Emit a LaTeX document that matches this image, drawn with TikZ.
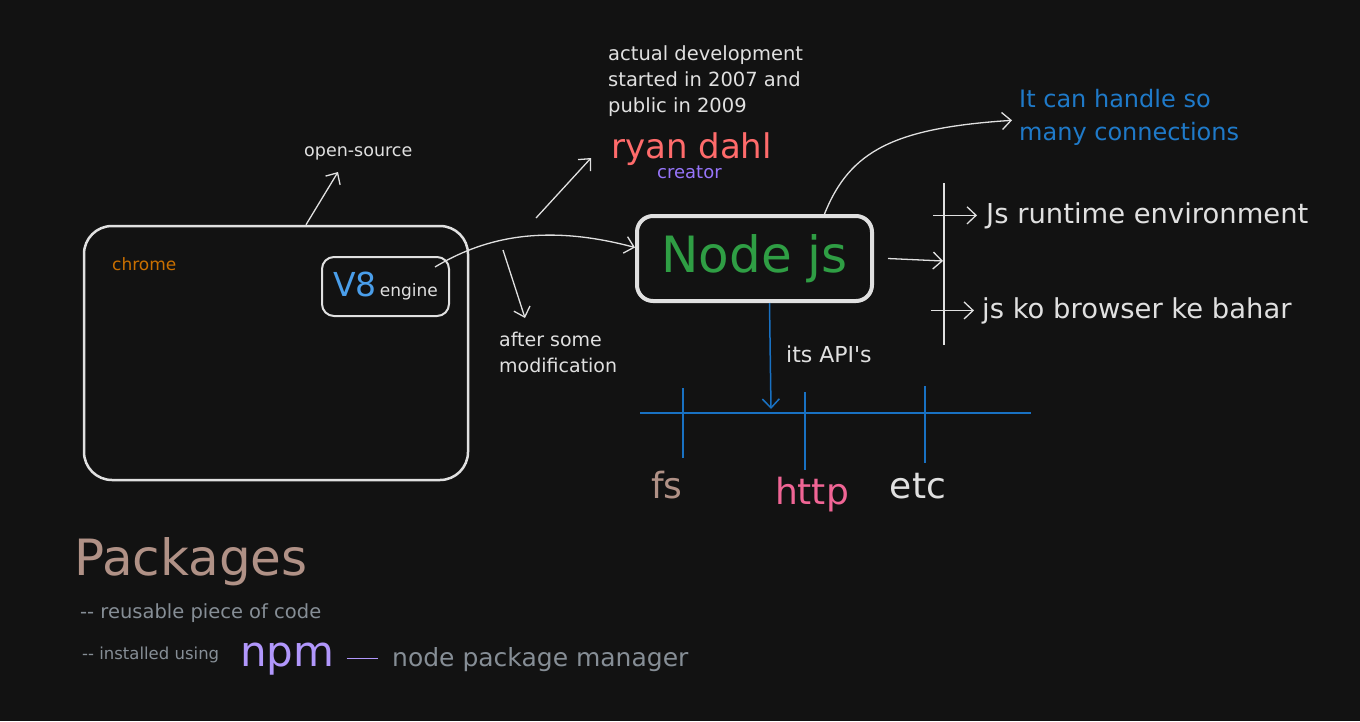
\documentclass[tikz,border=0pt]{standalone}
\usepackage{fontspec}
\setmainfont{DejaVu Sans}
\usetikzlibrary{positioning,arrows.meta}

\definecolor{bg}{HTML}{121212}
\definecolor{chalk}{HTML}{E0E0E0}
\definecolor{chromeorange}{HTML}{C96F00}
\definecolor{v8blue}{HTML}{4A9EEA}
\definecolor{nodegreen}{HTML}{2F9E44}
\definecolor{ryanred}{HTML}{FF6B6B}
\definecolor{creatorpurple}{HTML}{9775FA}
\definecolor{apiblue}{HTML}{1971C2}
\definecolor{handleblue}{HTML}{1F7AC9}
\definecolor{fsbrown}{HTML}{B09186}
\definecolor{httppink}{HTML}{F06595}
\definecolor{notegray}{HTML}{868E96}
\definecolor{npmpurple}{HTML}{B197FC}

\begin{document}
\begin{tikzpicture}[x=1pt,y=-1pt,
  every node/.style={inner sep=0pt,text=chalk},
  box/.style={draw=chalk,line width=2.5pt},
  arr/.style={draw=chalk,line width=1.3pt,-{Straight Barb[length=9pt,width=17pt]}},
  api/.style={draw=apiblue,line width=1.5pt},
  txt/.style={anchor=base west,font=\fontsize{#1}{#1}\selectfont},
  para/.style={anchor=north west,align=left,font=\fontsize{#1}{1.4\dimexpr#1pt\relax}\selectfont}]

  \fill[bg] (0,0) rectangle (1360,721);
  \useasboundingbox (0,0) rectangle (1360,721);

  % chrome and its engine
  \node[box,rounded corners=28pt,minimum width=384pt,minimum height=254pt] (chrome) at (276,353) {};
  \node[txt=17,text=chromeorange] (chromelbl) at (112,270) {chrome};
  \node[box,line width=2pt,rounded corners=12pt,minimum width=127pt,minimum height=59pt] (v8) at (385.5,286.5)
    {\textcolor{v8blue}{\fontsize{33}{33}\selectfont V8}\kern3pt{\fontsize{17}{17}\selectfont engine}};

  \node[txt=17.5] (opensrc) at (304,156) {open-source};
  \coordinate (opentip) at (338,172);

  % node js
  \node[box,line width=4pt,rounded corners=16pt,minimum width=235pt,minimum height=85pt,
        text=nodegreen,font=\fontsize{50}{50}\selectfont] (nodejs) at (754.5,258.5) {Node js};

  \node[para=19,font=\fontsize{19}{26}\selectfont] (modif) at (499,332) {after some\\modification};
  \coordinate (modtail) at (503,250);
  \coordinate (modtip) at (525,318);

  % creator
  \node[para=19.5,font=\fontsize{19.5}{26}\selectfont] (history) at (608,45) {actual development\\started in 2007 and\\public in 2009};
  \node[txt=34,text=ryanred] (ryan) at (611,158) {ryan dahl};
  \node[txt=18,text=creatorpurple] (creator) at (657,178) {creator};
  \coordinate (ryantail) at (536,218);
  \coordinate (ryantip) at (591,158);

  \node[para=24,text=handleblue,font=\fontsize{24}{33}\selectfont] (handle) at (1019,89) {It can handle so\\many connections};

  % what node js is
  \coordinate (bartop) at (944,183);
  \coordinate (barbot) at (944,345);
  \coordinate (barmid) at (943,261);
  \node[txt=27.4] (runtime) at (986,223) {Js runtime environment};
  \node[txt=27.4] (bahar) at (982,318) {js ko browser ke bahar};

  % its API's
  \node[txt=22] (apis) at (786,362) {its API\textquotesingle s};
  \coordinate (apitip) at (771,409);
  \coordinate (libL) at (640,413);
  \coordinate (libR) at (1031,413);
  \node[txt=36,text=fsbrown,anchor=base] (fs) at (667,498) {fs};
  \node[txt=36,text=httppink,anchor=base] (http) at (812,504) {http};
  \node[txt=36,anchor=base] (etc) at (918,498) {etc};

  % packages
  \node[txt=50,text=fsbrown] (packages) at (74,575) {Packages};
  \node[txt=19.5,text=notegray] (reuse) at (80,618) {\mbox{-}\mbox{-} reusable piece of code};
  \node[txt=16.5,text=notegray] (installed) at (82,659) {\mbox{-}\mbox{-} installed using};
  \node[txt=42,text=npmpurple] (npm) at (240,666) {npm};
  \node[txt=25,text=notegray] (pkgmgr) at (392,666) {node package manager};

  \draw[arr] ([xshift=30pt]chrome.north) -- (opentip);
  \draw[arr] ([xshift=-15pt,yshift=-11pt]v8.north east) .. controls (480,240) and (540,222) .. ([yshift=11pt]nodejs.west);
  \draw[arr] (modtail) -- (modtip);
  \draw[arr] (ryantail) -- (ryantip);
  \draw[arr] ([xshift=70pt]nodejs.north) .. controls (850,150) and (895,128) .. ([shift={(-7pt,-3pt)}]handle.west);
  \draw[chalk,line width=1.5pt] (bartop) -- (barbot);
  \draw[arr] ([xshift=14pt]nodejs.east) -- (barmid);
  \draw[arr] ([xshift=-53pt]runtime.west) -- ([xshift=-9pt]runtime.west);
  \draw[arr] ([xshift=-51pt]bahar.west) -- ([xshift=-8pt]bahar.west);
  \draw[api,-{Straight Barb[length=9pt,width=17pt]}] ([xshift=15pt]nodejs.south) -- (apitip);
  \draw[api] (libL) -- (libR);
  \foreach \x/\t/\b in {683/388/458,805/392/470,925/386/463}
    \draw[api] (\x,\t) -- (\x,\b);
  \draw[npmpurple,line width=1.5pt] ([xshift=12pt]npm.east) -- ([xshift=-14pt]pkgmgr.west |- npm.east);

\end{tikzpicture}
\end{document}
